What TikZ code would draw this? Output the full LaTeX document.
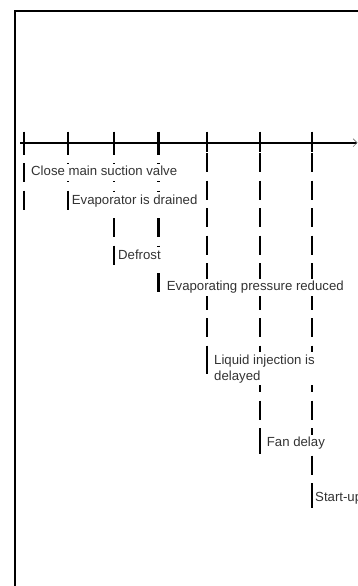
\documentclass[tikz,border=0pt]{standalone}
\usepackage{fontspec}
\setmainfont{Liberation Sans}
\usetikzlibrary{arrows.meta}
\begin{document}
\begin{tikzpicture}[x=1pt, y=-1pt,
    tick/.style={line width=2.2pt},
    leadA/.style={line width=2.2pt, dash pattern=on 19pt off 8.5pt, dash phase=7pt},
    leadB/.style={line width=2.2pt, dash pattern=on 19pt off 8.5pt, dash phase=17pt},
    lbl/.style={anchor=west, fill=white, inner xsep=1pt, inner ysep=2.5pt,
        text=black!80, font=\fontsize{13.2}{16}\selectfont,
        text height=9.5pt, text depth=3pt}]
    \useasboundingbox (0,0) rectangle (358,586);
    % frame
    \draw[line width=1.8pt] (15.2,590) |- (362,10.8);
    % time axis
    \coordinate (start) at (20,142.7);
    \coordinate (end) at (357.5,142.7);
    \coordinate (t1) at (24,142.7);
    \coordinate (t2) at (68.3,142.7);
    \coordinate (t3) at (114,142.7);
    \coordinate (t4) at (158.5,142.7);
    \coordinate (t5) at (206.8,142.7);
    \coordinate (t6) at (260,142.7);
    \coordinate (t7) at (311.8,142.7);
    \draw[line width=1.8pt, -{Straight Barb[length=4pt, width=8pt, line width=0.6pt, color=black!55]}] (start) -- (end);
    \draw[tick] ([yshift=11pt]t1) -- ([yshift=-9pt]t1);
    \draw[tick] ([yshift=11pt]t2) -- ([yshift=-9pt]t2);
    \draw[tick] ([yshift=11pt]t3) -- ([yshift=-9pt]t3);
    \draw[tick] ([yshift=11pt]t4) -- ([yshift=-9pt]t4);
    \draw[tick] ([yshift=11pt]t5) -- ([yshift=-9pt]t5);
    \draw[tick] ([yshift=11pt]t6) -- ([yshift=-9pt]t6);
    \draw[tick] ([yshift=11pt]t7) -- ([yshift=-9pt]t7);
    % line ends
    \coordinate (b1) at (24,209.7);
    \coordinate (b2) at (68.3,209.7);
    \coordinate (b3) at (114,265.2);
    \coordinate (b4) at (158.5,292.7);
    \coordinate (b5) at (206.8,373.5);
    \coordinate (b6) at (260,454);
    \coordinate (b7) at (311.8,508);
    % dashed lines
    \draw[leadA] (t1) -- (b1);
    \draw[leadA] (t2) -- (b2);
    \draw[leadA] (t3) -- (b3);
    \draw[leadA] (t4) -- (b4);
    \draw[leadB] (t5) -- (b5);
    \draw[leadB] (t6) -- (b6);
    \draw[leadB] (t7) -- (b7);
    \draw[tick] ([yshift=19pt]b5) -- (b5);
    \draw[tick] ([yshift=19pt]b6) -- (b6);
    \draw[tick] ([yshift=20pt]b7) -- (b7);
    % events
    \node[lbl] (l1) at (30,172.7) {Close main suction valve};
    \node[lbl] (l2) at (70.7,201) {Evaporator is drained};
    \node[lbl] (l3) at (117,256) {Defrost};
    \node[lbl] (l4) at (165.7,287.7) {Evaporating pressure reduced};
    \node[lbl, align=left, text height=, text depth=] (l5) at (213,368.7) {Liquid injection is\\delayed};
    \node[lbl] (l6) at (265.7,443.3) {Fan delay};
    \node[lbl] (l7) at (314,498) {Start-up};
\end{tikzpicture}
\end{document}
